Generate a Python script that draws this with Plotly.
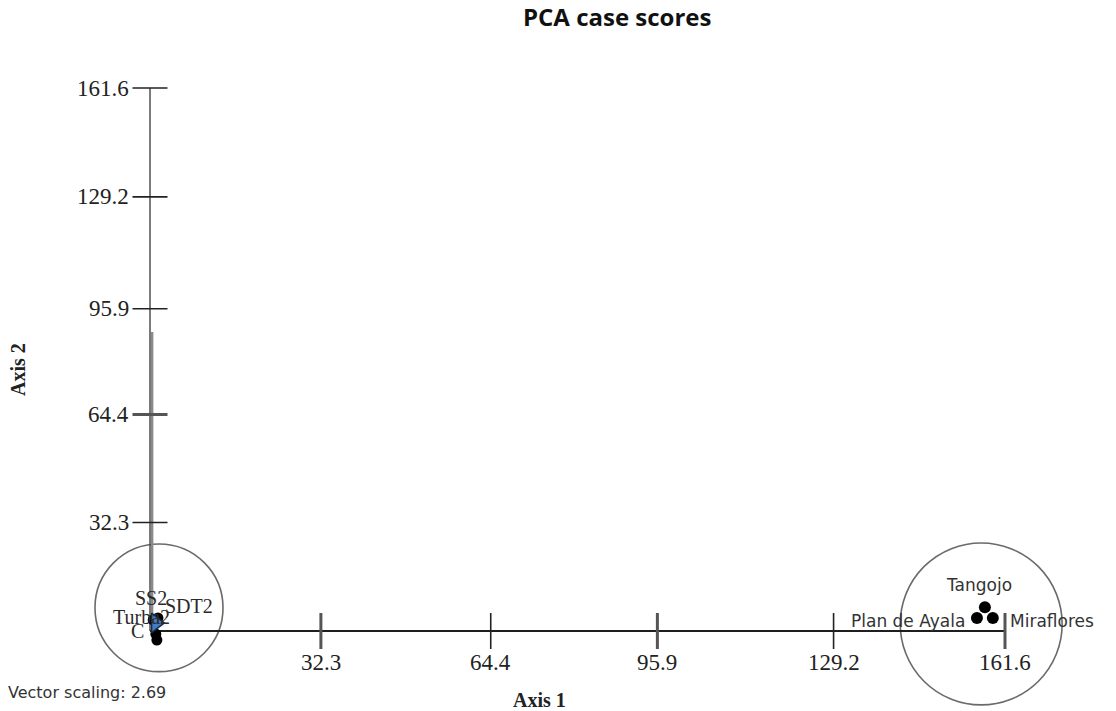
import plotly.graph_objects as go

# ---------------- data ----------------
axis_max = 161.6
tick_values = [32.3, 64.4, 95.9, 129.2, 161.6]
tick_labels = ["32.3", "64.4", "95.9", "129.2", "161.6"]

# right-hand cluster (sites)
site_names = ["Tangojo", "Plan de Ayala", "Miraflores"]
site_x = [157.8, 156.3, 159.3]
site_y = [7.1, 3.9, 3.9]

# left-hand cluster (treatments, black dots)
treat_names = ["SS2", "SDT2", "C", ""]
treat_x = [0.6, 1.5, 1.1, 1.3]
treat_y = [3.3, 3.9, -0.9, -2.7]

# blue triangle case
tri_names = ["Turba2"]
tri_x = [1.1]
tri_y = [2.4]

# biplot vector (scaled by 2.69)
vector_x = [0.4]
vector_y = [89.0]
vector_scaling = 2.69

# group circles (centre and radii in axis units)
group_cx = [1.7, 157.1]
group_cy = [6.9, 2.1]
group_rx = [12.1, 15.3]
group_ry = [19.0, 24.1]

# ---------------- layout helpers ----------------
W, H = 1116, 711
ox_px, oy_px = 150, 631
end_px_x, end_px_y = 1005, 88
sx = (end_px_x - ox_px) / axis_max
sy = (oy_px - end_px_y) / axis_max
xrange = [-ox_px / sx, (W - ox_px) / sx]
yrange = [-(H - oy_px) / sy, oy_px / sy]

SERIF = "Liberation Serif"
SANS = "DejaVu Sans"

fig = go.Figure()
shapes = []
annotations = []

# group circles
for cx, cy, rx, ry in zip(group_cx, group_cy, group_rx, group_ry):
    shapes.append(dict(type="circle", xref="x", yref="y",
                       x0=cx - rx, x1=cx + rx, y0=cy - ry, y1=cy + ry,
                       line=dict(color="#6a6a6a", width=1.6), layer="below"))

# biplot vector
for vx, vy in zip(vector_x, vector_y):
    shapes.append(dict(type="line", xref="x", yref="y", x0=vx, y0=0, x1=vx, y1=vy,
                       line=dict(color="#8a8a8a", width=2.5), layer="below"))

# axis lines
shapes.append(dict(type="line", xref="x", yref="y", x0=0, y0=0, x1=axis_max, y1=0,
                   line=dict(color="#1e1e1e", width=2), layer="below"))
shapes.append(dict(type="line", xref="x", yref="y", x0=0, y0=0, x1=0, y1=axis_max,
                   line=dict(color="#444444", width=1.4), layer="below"))

# tick marks
xt_half = 18 / sy
yt_half = 17.5 / sx
x_tick_w = [3, 1.6, 3, 1.6, 3]
y_tick_w = [1.6, 3, 1.6, 1.6, 1.6]
for v, lab, w in zip(tick_values, tick_labels, x_tick_w):
    shapes.append(dict(type="line", xref="x", yref="y", x0=v, x1=v, y0=-xt_half, y1=xt_half,
                       line=dict(color="#555555" if w > 2 else "#222222", width=w), layer="below"))
    annotations.append(dict(x=v, y=0, xref="x", yref="y", text=lab, showarrow=False,
                            xanchor="center", yanchor="middle", yshift=-31,
                            font=dict(family=SERIF, size=23, color="#222222")))
for v, lab, w in zip(tick_values, tick_labels, y_tick_w):
    shapes.append(dict(type="line", xref="x", yref="y", y0=v, y1=v, x0=-yt_half, x1=yt_half,
                       line=dict(color="#555555" if w > 2 else "#222222", width=w), layer="below"))
    annotations.append(dict(x=0, y=v, xref="x", yref="y", text=lab, showarrow=False,
                            xanchor="right", yanchor="middle", xshift=-19,
                            font=dict(family=SERIF, size=23, color="#222222")))

# points
fig.add_trace(go.Scatter(x=treat_x, y=treat_y, mode="markers",
                         marker=dict(color="black", size=11), hoverinfo="skip"))
fig.add_trace(go.Scatter(x=tri_x, y=tri_y, mode="markers",
                         marker=dict(symbol="triangle-right", color="#3f7fc4", size=17,
                                     line=dict(color="#1a2a40", width=1.5)), hoverinfo="skip"))
fig.add_trace(go.Scatter(x=site_x, y=site_y, mode="markers",
                         marker=dict(color="black", size=12), hoverinfo="skip"))

# point labels (left cluster, serif)
treat_offsets = [(-2, 22, "center"), (5, 12, "left"), (-10, 3, "right"), (0, 0, "center")]
for n, x, y, (dx, dy, anc) in zip(treat_names, treat_x, treat_y, treat_offsets):
    if n:
        annotations.append(dict(x=x, y=y, xref="x", yref="y", text=n, showarrow=False,
                                xanchor=anc, yanchor="middle", xshift=dx, yshift=dy,
                                font=dict(family=SERIF, size=20, color="#2a2a2a")))
for n, x, y in zip(tri_names, tri_x, tri_y):
    annotations.append(dict(x=x, y=y, xref="x", yref="y", text=n, showarrow=False,
                            xanchor="center", yanchor="middle", xshift=-14, yshift=6,
                            font=dict(family=SERIF, size=20, color="#2a2a2a")))

# point labels (right cluster, sans)
site_offsets = [(-6, 22, "center"), (-10, -3, "right"), (15, -3, "left")]
for n, x, y, (dx, dy, anc) in zip(site_names, site_x, site_y, site_offsets):
    annotations.append(dict(x=x, y=y, xref="x", yref="y", text=n, showarrow=False,
                            xanchor=anc, yanchor="middle", xshift=dx, yshift=dy,
                            font=dict(family=SANS, size=17, color="#333333")))

# titles and notes (paper coordinates)
annotations.append(dict(x=617 / W, y=1 - 17 / H, xref="paper", yref="paper",
                        text="<b>PCA case scores</b>", showarrow=False,
                        xanchor="center", yanchor="middle",
                        font=dict(family="Open Sans", size=24, color="#111111")))
annotations.append(dict(x=539 / W, y=1 - 700 / H, xref="paper", yref="paper",
                        text="<b>Axis 1</b>", showarrow=False,
                        xanchor="center", yanchor="middle",
                        font=dict(family=SERIF, size=20, color="#222222")))
annotations.append(dict(x=18 / W, y=1 - 370 / H, xref="paper", yref="paper",
                        text="<b>Axis 2</b>", showarrow=False, textangle=-90,
                        xanchor="center", yanchor="middle",
                        font=dict(family=SERIF, size=20, color="#222222")))
annotations.append(dict(x=6 / W, y=1 - 692 / H, xref="paper", yref="paper",
                        text=f"Vector scaling: {vector_scaling}", showarrow=False,
                        xanchor="left", yanchor="middle",
                        font=dict(family=SANS, size=16, color="#333333")))

fig.update_layout(
    width=W, height=H,
    margin=dict(l=0, r=0, t=0, b=0),
    paper_bgcolor="white", plot_bgcolor="white",
    showlegend=False,
    xaxis=dict(range=xrange, visible=False, fixedrange=True),
    yaxis=dict(range=yrange, visible=False, fixedrange=True),
    shapes=shapes, annotations=annotations,
)

fig.write_html("out.html", config={"displayModeBar": False},
               post_script="document.body.style.margin='0px';document.body.style.overflow='hidden';")
